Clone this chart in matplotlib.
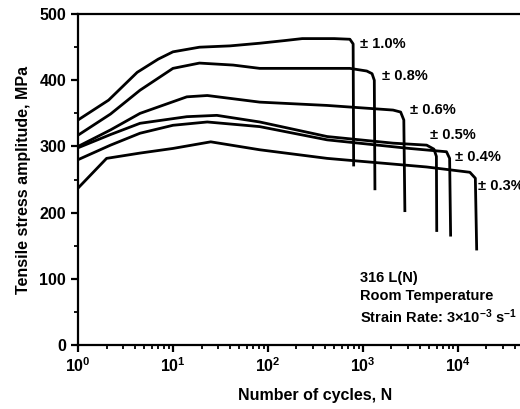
import matplotlib
matplotlib.use('Agg')
import matplotlib.pyplot as plt

plt.rcParams['font.family'] = ['Liberation Sans', 'DejaVu Sans']
plt.rcParams['font.weight'] = 'bold'
plt.rcParams['mathtext.fontset'] = 'custom'
plt.rcParams['mathtext.rm'] = 'Liberation Sans:bold'
plt.rcParams['mathtext.bf'] = 'Liberation Sans:bold'
plt.rcParams['mathtext.default'] = 'bf'

# cycles and stress amplitude (MPa) for each strain amplitude, ending with the drop
n_10 = [1, 2.1, 4.2, 7, 10, 19, 40, 82, 150, 230, 500, 730, 790, 800]
s_10 = [340, 370, 412, 432, 443, 450, 452, 456, 460, 463, 463, 462, 455, 272]

n_08 = [1, 2.2, 4.5, 10, 19, 43, 82, 300, 730, 1100, 1250, 1320, 1340]
s_08 = [317, 349, 385, 418, 426, 423, 418, 418, 418, 414, 410, 400, 236]

n_06 = [1, 2.2, 4.5, 14, 23, 82, 420, 2080, 2500, 2700, 2770]
s_06 = [300, 325, 350, 375, 377, 367, 362, 355, 352, 340, 203]

n_05 = [1, 2.2, 4.5, 14, 29, 82, 420, 2080, 4700, 5600, 5950, 6000]
s_05 = [298, 318, 335, 345, 347, 337, 315, 305, 302, 296, 285, 173]

n_04 = [1, 2.2, 4.5, 10, 23, 82, 420, 3100, 7600, 8200, 8400]
s_04 = [280, 302, 320, 332, 337, 330, 310, 297, 292, 282, 166]

n_03 = [1, 2.0, 4.5, 10, 25, 82, 420, 4700, 13400, 15300, 15800]
s_03 = [237, 282, 290, 297, 307, 295, 282, 269, 261, 252, 145]

curves = [(n_10, s_10), (n_08, s_08), (n_06, s_06),
          (n_05, s_05), (n_04, s_04), (n_03, s_03)]

labels = ['± 1.0%', '± 0.8%', '± 0.6%', '± 0.5%', '± 0.4%', '± 0.3%']
label_x = [930, 1580, 3140, 5050, 9340, 16300]
label_y = [455, 406, 355, 317, 284, 240]

fig = plt.figure(figsize=(5.2, 4.09), dpi=100)
ax = fig.add_axes([0.15, 0.1565, 0.913, 0.809])

for n, s in curves:
    ax.plot(n, s, color='black', lw=2.0, solid_joinstyle='round')

for txt, x, y in zip(labels, label_x, label_y):
    ax.text(x, y, txt, fontsize=10.5, fontweight='bold', va='center', ha='left')

ax.text(0.595, 0.14, '316 L(N)\nRoom Temperature\nStrain Rate: 3×10$^{-3}$ s$^{-1}$',
        transform=ax.transAxes, fontsize=10.5, fontweight='bold', va='center',
        ha='left', linespacing=1.3)

ax.set_xscale('log')
ax.set_xlim(1, 1e5)
ax.set_ylim(0, 500)
ax.set_xticks([1, 10, 100, 1000, 10000])
ax.set_xticklabels(['$10^0$', '$10^1$', '$10^2$', '$10^3$', '$10^4$'])
ax.set_yticks([0, 100, 200, 300, 400, 500])
ax.set_yticks(range(50, 500, 100), minor=True)

for sp in ax.spines.values():
    sp.set_linewidth(1.6)

ax.tick_params(which='major', direction='out', length=5, width=1.6, labelsize=11.5)
ax.tick_params(which='minor', direction='out', length=3, width=1.3)

ax.set_xlabel('Number of cycles, N', fontsize=11.5, fontweight='bold', labelpad=9)
ax.set_ylabel('Tensile stress amplitude, MPa', fontsize=11.5, fontweight='bold', labelpad=6)

fig.savefig('out.png', dpi=100, facecolor='white')
